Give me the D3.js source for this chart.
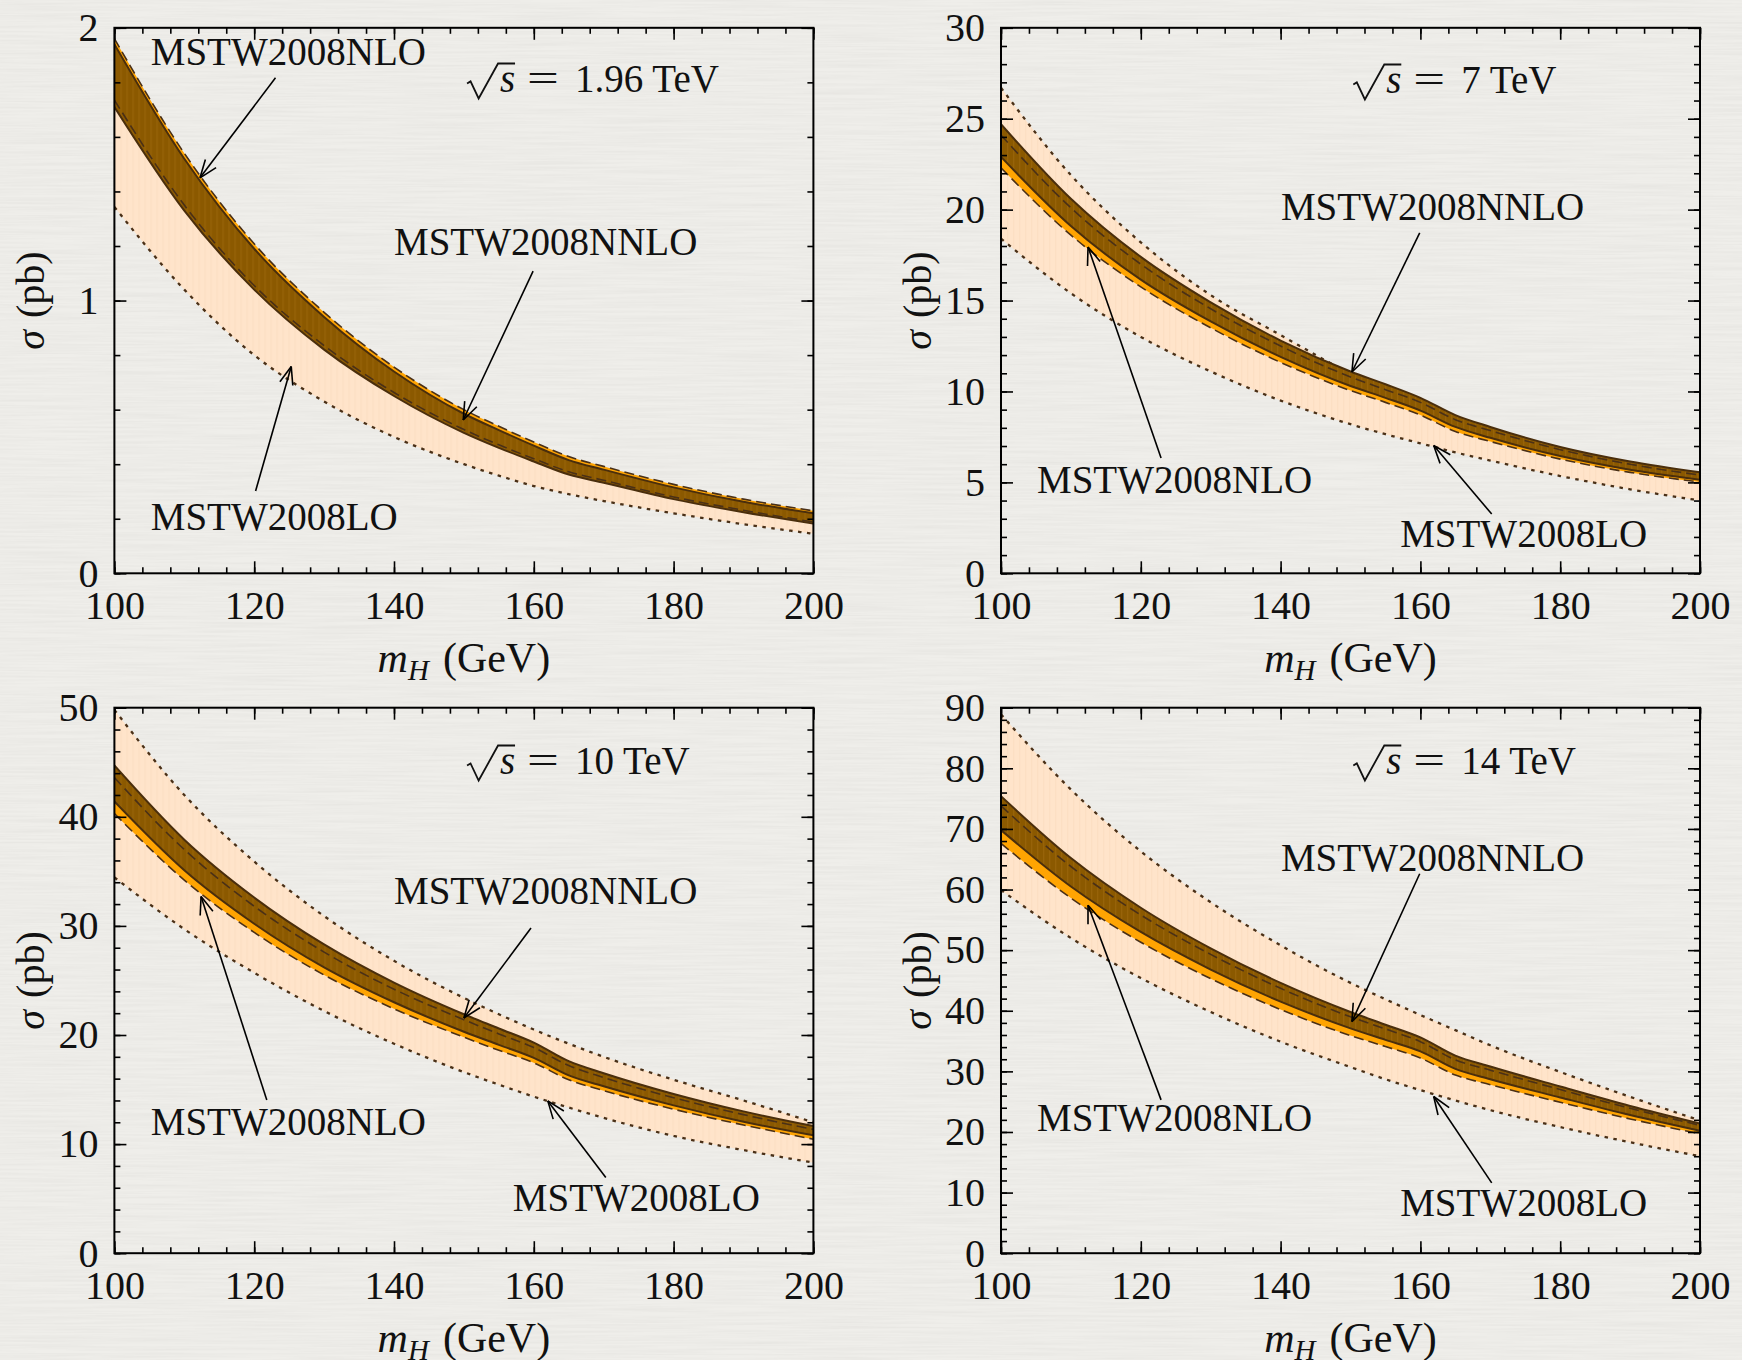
<!DOCTYPE html>
<html>
<head>
<meta charset="utf-8">
<script src="https://cdn.jsdelivr.net/npm/d3@7"></script>
<style>
  body { margin: 0; background: #eeede9; }
  svg text { font-family: "Liberation Serif", "DejaVu Serif", serif; fill: #111; }
</style>
</head>
<body>
<svg id="fig" width="1742" height="1360"></svg>
<script>

// Higgs mass grid (GeV), extra points around the WW threshold
const massPoints = [100, 110, 120, 130, 140, 150, 155, 160, 165, 170, 180, 190, 200];
const xTicks = [100, 120, 140, 160, 180, 200];

// Tevatron, sqrt(s) = 1.96 TeV  (sigma in pb)
const tevLoHi   = [1.82, 1.42, 1.11, 0.88, 0.70, 0.55, 0.49, 0.438, 0.39, 0.355, 0.294, 0.243, 0.200];
const tevLoLo   = [1.343, 1.04, 0.80, 0.63, 0.50, 0.40, 0.358, 0.32, 0.29, 0.265, 0.22, 0.18, 0.145];
const tevNloHi  = [1.96, 1.54, 1.208, 0.957, 0.756, 0.6, 0.539, 0.481, 0.428, 0.392, 0.326, 0.272, 0.229];
const tevNloLo  = [1.735, 1.35, 1.055, 0.835, 0.663, 0.527, 0.471, 0.42, 0.372, 0.341, 0.28, 0.231, 0.188];
const tevNnloHi = [1.94, 1.52, 1.19, 0.94, 0.74, 0.585, 0.525, 0.468, 0.415, 0.38, 0.315, 0.262, 0.220];
const tevNnloLo = [1.71, 1.33, 1.04, 0.82, 0.65, 0.515, 0.46, 0.41, 0.362, 0.332, 0.272, 0.224, 0.182];
const tevTicks  = [0, 1, 2];

// LHC 7 TeV
const lhc7LoHi   = [26.7, 21.9, 18.2, 15.3, 13.1, 11.0, 10.15, 9.35, 8.6, 7.95, 6.9, 6.05, 5.45];
const lhc7LoLo   = [18.4, 15.4, 13.0, 11.1, 9.5, 8.2, 7.65, 7.15, 6.65, 6.2, 5.35, 4.62, 4.0];
const lhc7NloHi  = [24.1, 20.1, 17.0, 14.55, 12.5, 10.8, 10.1, 9.4, 8.45, 7.85, 6.8, 6.0, 5.4];
const lhc7NloLo  = [22.3, 18.6, 15.75, 13.5, 11.6, 10.05, 9.4, 8.7, 7.8, 7.25, 6.28, 5.55, 5.02];
const lhc7NnloHi = [24.7, 20.6, 17.4, 14.9, 12.8, 11.1, 10.4, 9.65, 8.7, 8.05, 6.95, 6.15, 5.55];
const lhc7NnloLo = [22.9, 19.1, 16.15, 13.85, 11.9, 10.3, 9.65, 8.95, 8.05, 7.45, 6.45, 5.7, 5.15];
const lhc7Ticks  = [0, 5, 10, 15, 20, 25, 30];

// LHC 10 TeV
const lhc10LoHi   = [49.8, 42.0, 35.9, 30.9, 26.8, 23.4, 21.9, 20.5, 19.2, 18.0, 15.9, 14.0, 12.0];
const lhc10LoLo   = [34.45, 29.7, 25.7, 22.2, 19.2, 16.6, 15.45, 14.35, 13.35, 12.4, 10.75, 9.45, 8.3];
const lhc10NloHi  = [43.6, 37.0, 31.8, 27.6, 24.2, 21.4, 20.1, 18.85, 17.2, 16.1, 14.25, 12.7, 11.35];
const lhc10NloLo  = [40.3, 34.2, 29.4, 25.5, 22.4, 19.8, 18.6, 17.45, 15.9, 14.9, 13.2, 11.75, 10.45];
const lhc10NnloHi = [44.7, 37.9, 32.6, 28.3, 24.8, 21.9, 20.6, 19.3, 17.6, 16.5, 14.6, 13.0, 11.65];
const lhc10NnloLo = [41.4, 35.1, 30.2, 26.2, 23.0, 20.3, 19.1, 17.9, 16.3, 15.3, 13.55, 12.05, 10.8];
const lhc10Ticks  = [0, 10, 20, 30, 40, 50];

// LHC 14 TeV
const lhc14LoHi   = [88.9, 76.5, 66.3, 57.9, 50.8, 44.6, 41.9, 39.3, 36.8, 34.3, 29.9, 25.8, 21.9];
const lhc14LoLo   = [59.9, 52.0, 45.4, 39.8, 34.9, 30.7, 28.7, 26.9, 25.2, 23.6, 20.8, 18.3, 16.0];
const lhc14NloHi  = [73.8, 63.8, 55.8, 49.3, 43.7, 39.0, 37.0, 34.9, 31.9, 30.2, 27.0, 23.9, 21.1];
const lhc14NloLo  = [67.6, 58.6, 51.3, 45.3, 40.2, 35.9, 34.1, 32.2, 29.4, 27.8, 24.9, 22.15, 19.7];
const lhc14NnloHi = [75.4, 65.2, 57.0, 50.3, 44.6, 39.8, 37.7, 35.6, 32.6, 30.8, 27.5, 24.3, 21.4];
const lhc14NnloLo = [69.8, 60.5, 53.0, 46.8, 41.5, 37.1, 35.2, 33.3, 30.4, 28.7, 25.7, 22.8, 20.2];
const lhc14Ticks  = [0, 10, 20, 30, 40, 50, 60, 70, 80, 90];

const energies = ['1.96', '7', '10', '14'];

// annotation anchors, in data coordinates (mH, sigma)
const notes = [
  { energyAt: [150.45, 1.765],
    labels: [
      { text: 'MSTW2008NLO',  at: [105.2, 1.864], tail: [123.05, 1.817], head: [112.25, 1.450] },
      { text: 'MSTW2008NNLO', at: [140.0, 1.167], tail: [159.9, 1.108],  head: [149.9, 0.562] },
      { text: 'MSTW2008LO',   at: [105.2, 0.160], tail: [120.2, 0.302],  head: [125.3, 0.758] }
    ] },
  { energyAt: [150.4, 26.42],
    labels: [
      { text: 'MSTW2008NNLO', at: [140.05, 19.45], tail: [159.9, 18.72], head: [150.2, 11.07] },
      { text: 'MSTW2008NLO',  at: [105.15, 4.42],  tail: [122.9, 6.34],  head: [112.45, 17.95] },
      { text: 'MSTW2008LO',   at: [157.1, 1.42],   tail: [170.2, 3.26],  head: [161.9, 7.03] }
    ] },
  { energyAt: [150.45, 43.93],
    labels: [
      { text: 'MSTW2008NNLO', at: [140.0, 32.02], tail: [159.6, 29.8],  head: [150.0, 21.56] },
      { text: 'MSTW2008NLO',  at: [105.2, 10.84], tail: [121.8, 14.05], head: [112.4, 32.7] },
      { text: 'MSTW2008LO',   at: [157.0, 3.9],   tail: [170.3, 6.93],  head: [162.0, 13.96] }
    ] },
  { energyAt: [150.4, 79.08],
    labels: [
      { text: 'MSTW2008NNLO', at: [140.05, 63.1], tail: [159.9, 62.6],  head: [150.2, 38.2] },
      { text: 'MSTW2008NLO',  at: [105.15, 20.2], tail: [122.9, 25.3],  head: [112.45, 57.4] },
      { text: 'MSTW2008LO',   at: [157.1, 6.1],   tail: [170.2, 11.6],  head: [161.9, 25.85] }
    ] }
];

const panels = [
  { lo: [tevLoLo, tevLoHi], nlo: [tevNloLo, tevNloHi], nnlo: [tevNnloLo, tevNnloHi], ticks: tevTicks, minor: 0.2 },
  { lo: [lhc7LoLo, lhc7LoHi], nlo: [lhc7NloLo, lhc7NloHi], nnlo: [lhc7NnloLo, lhc7NnloHi], ticks: lhc7Ticks, minor: 1 },
  { lo: [lhc10LoLo, lhc10LoHi], nlo: [lhc10NloLo, lhc10NloHi], nnlo: [lhc10NnloLo, lhc10NnloHi], ticks: lhc10Ticks, minor: 2 },
  { lo: [lhc14LoLo, lhc14LoHi], nlo: [lhc14NloLo, lhc14NloHi], nnlo: [lhc14NnloLo, lhc14NnloHi], ticks: lhc14Ticks, minor: 2 }
];

const svg = d3.select('#fig');
const defs = svg.append('defs');

// paper-like background, faint horizontal fibres
const paper = defs.append('filter').attr('id', 'paper')
  .attr('x', 0).attr('y', 0).attr('width', '100%').attr('height', '100%');
paper.append('feTurbulence')
  .attr('type', 'fractalNoise').attr('baseFrequency', '0.01 0.45')
  .attr('numOctaves', 3).attr('seed', 7);
paper.append('feColorMatrix').attr('type', 'matrix')
  .attr('values', '0 0 0 0 0.45  0 0 0 0 0.44  0 0 0 0 0.42  0.22 0 0 0 -0.07');
svg.append('rect').attr('width', 1742).attr('height', 1360).attr('fill', '#efeeea');
svg.append('rect').attr('width', 1742).attr('height', 1360).attr('filter', 'url(#paper)');

// faint vertical strips, like the rasterised bands of the original
function stripes(id, base, line) {
  const p = defs.append('pattern')
    .attr('id', id)
    .attr('patternUnits', 'userSpaceOnUse')
    .attr('width', 6).attr('height', 10);
  p.append('rect').attr('width', 6).attr('height', 10).attr('fill', base);
  p.append('rect').attr('width', 1.3).attr('height', 10).attr('fill', line);
}
stripes('loFill', '#ffe4ca', '#fcdfc3');
stripes('nnloFill', '#8b5900', '#976309');

const plotW = 699, plotH = 545.5;
const lefts = [114.4, 1001], tops = [27.8, 707.7];
const lineDark = '#4a3017';

function drawPanel(p, idx) {
  const col = idx % 2, row = Math.floor(idx / 2);
  const g = svg.append('g')
    .attr('transform', `translate(${lefts[col]},${tops[row]})`);

  const x = d3.scaleLinear().domain([100, 200]).range([0, plotW]);
  const y = d3.scaleLinear().domain([0, d3.max(p.ticks)]).range([plotH, 0]);

  defs.append('clipPath').attr('id', 'clip' + idx)
    .append('rect').attr('width', plotW).attr('height', plotH);
  const bands = g.append('g').attr('clip-path', `url(#clip${idx})`);

  const area = (lo, hi) => d3.area()
    .x((d, i) => x(massPoints[i]))
    .y0((d, i) => y(lo[i]))
    .y1((d, i) => y(hi[i]))
    .curve(d3.curveMonotoneX)(massPoints);
  const line = vals => d3.line()
    .x((d, i) => x(massPoints[i]))
    .y(d => y(d))
    .curve(d3.curveMonotoneX)(vals);

  // LO band
  bands.append('path').attr('d', area(p.lo[0], p.lo[1])).attr('fill', 'url(#loFill)');
  p.lo.forEach(v => bands.append('path').attr('d', line(v))
    .attr('fill', 'none').attr('stroke', lineDark)
    .attr('stroke-width', 2.3).attr('stroke-dasharray', '3.5,5.5'));

  // NLO band
  bands.append('path').attr('d', area(p.nlo[0], p.nlo[1])).attr('fill', '#ffa402');

  // NNLO band
  bands.append('path').attr('d', area(p.nnlo[0], p.nnlo[1])).attr('fill', 'url(#nnloFill)');
  p.nnlo.forEach(v => bands.append('path').attr('d', line(v))
    .attr('fill', 'none').attr('stroke', '#4a2e0c').attr('stroke-width', 2));

  // NLO edges, dashed
  p.nlo.forEach(v => bands.append('path').attr('d', line(v))
    .attr('fill', 'none').attr('stroke', lineDark)
    .attr('stroke-width', 1.6).attr('stroke-dasharray', '10,5'));

  // ticks on all four sides, pointing inwards
  const yMax = d3.max(p.ticks);
  const minorY = d3.range(0, yMax + p.minor / 2, p.minor);
  const minorX = d3.range(100, 201, 4);
  const styleAxis = sel => {
    sel.select('.domain').remove();
    sel.attr('font-size', 40).attr('font-family', '"Liberation Serif", serif');
    sel.selectAll('line').attr('stroke', '#000').attr('stroke-width', 1.6);
    sel.selectAll('text').attr('fill', '#111');
  };
  const blank = () => '';
  const plain = d => String(d);

  g.append('g').call(d3.axisLeft(y).tickValues(p.ticks).tickFormat(plain)
    .tickSizeInner(-12).tickSizeOuter(0).tickPadding(16)).call(styleAxis);
  g.append('g').call(d3.axisLeft(y).tickValues(minorY).tickSize(-6).tickFormat(blank)).call(styleAxis);
  g.append('g').attr('transform', `translate(${plotW},0)`)
    .call(d3.axisRight(y).tickValues(p.ticks).tickSizeInner(-12).tickSizeOuter(0).tickFormat(blank)).call(styleAxis);
  g.append('g').attr('transform', `translate(${plotW},0)`)
    .call(d3.axisRight(y).tickValues(minorY).tickSize(-6).tickFormat(blank)).call(styleAxis);

  g.append('g').attr('transform', `translate(0,${plotH})`)
    .call(d3.axisBottom(x).tickValues(xTicks).tickFormat(plain)
      .tickSizeInner(-12).tickSizeOuter(0).tickPadding(17)).call(styleAxis);
  g.append('g').attr('transform', `translate(0,${plotH})`)
    .call(d3.axisBottom(x).tickValues(minorX).tickSize(-6).tickFormat(blank)).call(styleAxis);
  g.append('g')
    .call(d3.axisTop(x).tickValues(xTicks).tickSizeInner(-12).tickSizeOuter(0).tickFormat(blank)).call(styleAxis);
  g.append('g')
    .call(d3.axisTop(x).tickValues(minorX).tickSize(-6).tickFormat(blank)).call(styleAxis);

  // frame
  g.append('rect').attr('width', plotW).attr('height', plotH)
    .attr('fill', 'none').attr('stroke', '#000').attr('stroke-width', 2);

  // axis titles
  const xl = g.append('text')
    .attr('x', plotW / 2).attr('y', plotH + 99)
    .attr('text-anchor', 'middle').attr('font-size', 42);
  xl.append('tspan').attr('font-style', 'italic').text('m');
  xl.append('tspan').attr('font-style', 'italic').attr('font-size', 29).attr('dy', 8).text('H');
  xl.append('tspan').attr('dy', -8).attr('dx', 14).text('(GeV)');

  const yl = g.append('text')
    .attr('transform', `translate(-70,${plotH / 2}) rotate(-90)`)
    .attr('text-anchor', 'middle').attr('font-size', 40);
  yl.append('tspan').attr('font-style', 'italic').text('σ');
  yl.append('tspan').attr('dx', 12).text('(pb)');

  // sqrt(s) label
  const n = notes[idx];
  const ex = x(n.energyAt[0]), ey = y(n.energyAt[1]);
  g.append('path')
    .attr('d', `M${ex},${ey - 8.4} L${ex + 3.5},${ey - 10.5} L${ex + 11.6},${ey + 6.6} L${ex + 31},${ey - 28.4} L${ex + 48},${ey - 28.4}`)
    .attr('fill', 'none').attr('stroke', '#111').attr('stroke-width', 1.8);
  g.append('text').attr('x', ex + 33).attr('y', ey)
    .attr('font-size', 39).attr('font-style', 'italic').text('s');
  g.append('text')
    .attr('transform', `translate(${ex + 60},${ey}) scale(1.45,1)`)
    .attr('font-size', 39).text('=');
  g.append('text').attr('x', ex + 108).attr('y', ey)
    .attr('font-size', 39).text(energies[idx] + ' TeV');

  // curve labels with arrows
  n.labels.forEach(l => {
    g.append('text')
      .attr('x', x(l.at[0])).attr('y', y(l.at[1]))
      .attr('font-size', 39)
      .text(l.text);
    const x1 = x(l.tail[0]), y1 = y(l.tail[1]);
    const x2 = x(l.head[0]), y2 = y(l.head[1]);
    g.append('line').attr('x1', x1).attr('y1', y1).attr('x2', x2).attr('y2', y2)
      .attr('stroke', '#000').attr('stroke-width', 1.6);
    const a = Math.atan2(y2 - y1, x2 - x1);
    [1, -1].forEach(s => {
      const b = a + Math.PI + s * 0.36;
      g.append('line')
        .attr('x1', x2).attr('y1', y2)
        .attr('x2', x2 + 19 * Math.cos(b)).attr('y2', y2 + 19 * Math.sin(b))
        .attr('stroke', '#000').attr('stroke-width', 1.6);
    });
  });
}

panels.forEach(drawPanel);

</script>
</body>
</html>
